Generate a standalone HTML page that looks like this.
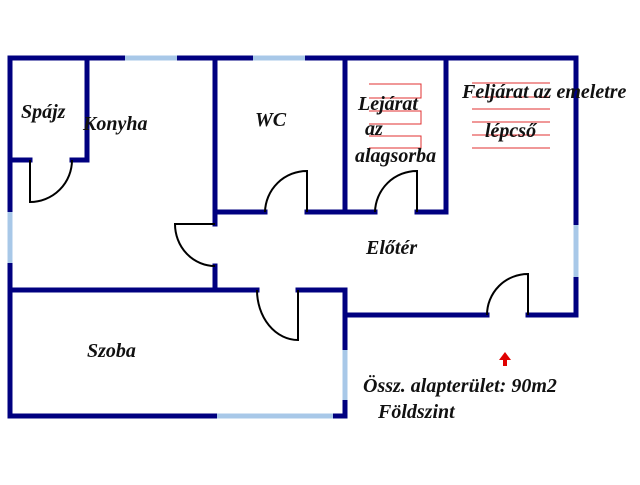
<!DOCTYPE html>
<html><head><meta charset="utf-8"><style>
body{margin:0;background:#fff}
text{font-family:"Liberation Serif",serif;font-style:italic;font-weight:bold;font-size:20px;fill:#111}
</style></head><body>
<svg width="640" height="480" viewBox="0 0 640 480" xmlns="http://www.w3.org/2000/svg">
<g stroke="#000080" stroke-width="5" fill="none" stroke-linecap="square">
<path d="M10 58H125M177 58H253M305 58H576"/>
<path d="M576 58V225M576 277V315H528"/>
<path d="M487 315H345V290H298M257 290H10"/>
<path d="M10 58V212M10 263V416H217M333 416H345V400M345 350V290"/>
<path d="M87 58V160H72M30 160H10"/>
<path d="M215 58V224M215 266V290"/>
<path d="M215 212H265M307 212H345M345 58V212H375M417 212H446V58"/>
</g>
<g stroke="#a8c8e8" stroke-width="5" fill="none">
<path d="M125 58H177M253 58H305M576 225V277M10 212V263M217 416H333M345 350V400"/>
</g>
<g stroke="#000" stroke-width="2" fill="none">
<path d="M30 160V202A42 42 0 0 0 72 160"/>
<path d="M215 224H175A40 42 0 0 0 215 266"/>
<path d="M307 212V171A42 42 0 0 0 265 212"/>
<path d="M417 212V171A42 42 0 0 0 375 212"/>
<path d="M528 315V274A41 41 0 0 0 487 315"/>
<path d="M257 290A41 50 0 0 0 298 340V290"/>
</g>
<g stroke="#e03030" stroke-width="1" fill="none">
<path d="M369 84H421V98H369M369 111H421V124H369M369 136H421V148H369"/>
<path d="M472 83H550M472 97H550M472 109H550M472 122H550M472 135H550M472 148H550"/>
</g>
<path d="M505 352L499 360H503V366H507V360H511Z" fill="#e00000"/>
<text x="21" y="118">Spájz</text>
<text x="83" y="130">Konyha</text>
<text x="255" y="126">WC</text>
<text x="358" y="110">Lejárat</text>
<text x="365" y="135">az</text>
<text x="355" y="162">alagsorba</text>
<text x="462" y="98">Feljárat az emeletre</text>
<text x="485" y="137">lépcső</text>
<text x="366" y="254">Előtér</text>
<text x="87" y="357">Szoba</text>
<text x="363" y="392">Össz. alapterület: 90m2</text>
<text x="378" y="418">Földszint</text>
</svg>
</body></html>
